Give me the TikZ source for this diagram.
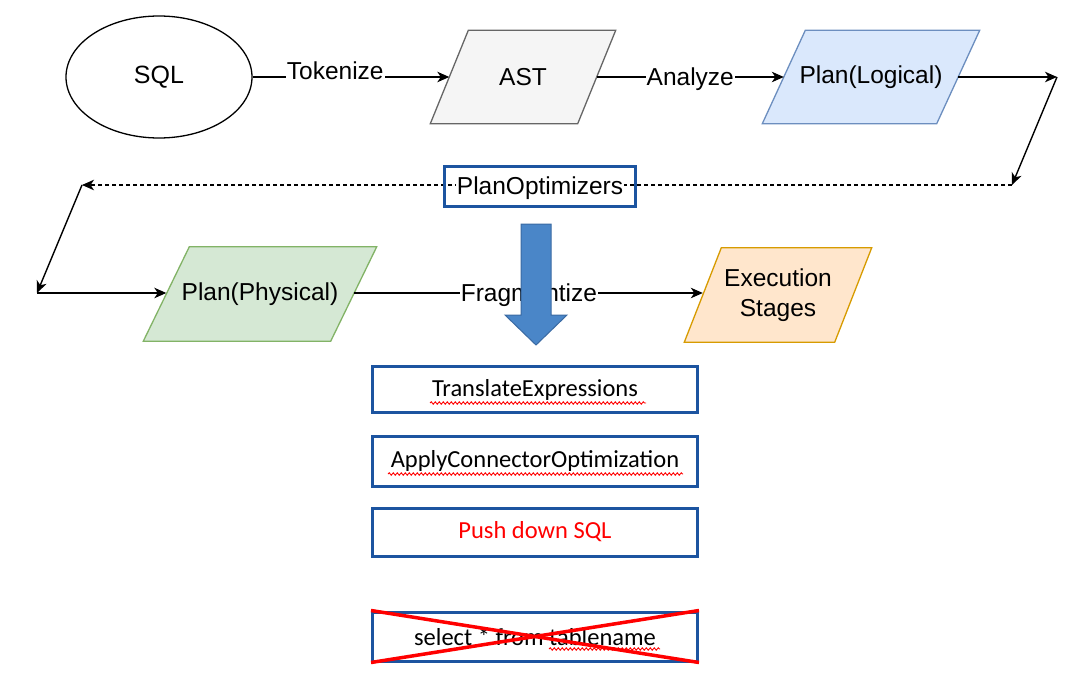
\documentclass[tikz,border=0pt]{standalone}
\usepackage{fontspec}
\setmainfont{Liberation Sans}
\newfontfamily\calibri{Carlito}
\usetikzlibrary{arrows.meta,shapes.geometric,backgrounds,decorations.pathmorphing}
\definecolor{astfill}{HTML}{F5F5F5}
\definecolor{astdraw}{HTML}{666666}
\definecolor{logfill}{HTML}{DAE8FC}
\definecolor{logdraw}{HTML}{6C8EBF}
\definecolor{phyfill}{HTML}{D5E8D4}
\definecolor{phydraw}{HTML}{82B366}
\definecolor{exefill}{HTML}{FFE6CC}
\definecolor{exedraw}{HTML}{D79B00}
\definecolor{boxblue}{RGB}{28,84,160}
\definecolor{arrowfill}{HTML}{4A86C8}
\definecolor{arrowdraw}{HTML}{3A6AA3}
\newcommand\paraback[4]{%
  \begin{scope}[on background layer]
    \draw[line width=1.3pt, fill=#3, draw=#4]
      ([xshift=#2pt]#1.north west) -- ([xshift=#2pt]#1.north east) --
      ([xshift=-#2pt]#1.south east) -- ([xshift=-#2pt]#1.south west) -- cycle;
  \end{scope}}
\begin{document}
\begin{tikzpicture}[x=1pt,y=-1pt,
  conn/.style={line width=1.4pt, -{Stealth[length=12pt,width=10.5pt,inset=3.5pt]}},
  dashconn/.style={conn, line width=1.1pt, dash pattern=on 4pt off 3pt},
  elbl/.style={fill=white, inner xsep=1pt, inner ysep=0pt, anchor=base, yshift=-8.5pt,
    font=\fontsize{24.5}{28}\selectfont},
  para/.style={inner sep=0pt, align=center, font=\fontsize{24.5}{29.5}\selectfont},
  optbox/.style={draw=boxblue, line width=3pt, minimum width=191pt, minimum height=40pt, inner sep=0pt},
  stagebox/.style={draw=boxblue, line width=3pt, minimum width=325pt, inner sep=0pt,
    font=\calibri\fontsize{24.5}{28}\selectfont},
  squig/.style={draw=red, line width=0.9pt, decorate,
    decoration={snake, segment length=4pt, amplitude=1.2pt}},
  bigarrow/.style={fill=arrowfill, draw=arrowdraw, line width=1pt}
]
\begin{scope}[on background layer]
  \fill[white] (0,0) rectangle (1080,680);
\end{scope}
\useasboundingbox (0,0) rectangle (1080,680);

% top row
\node[draw, ellipse, line width=1.3pt, minimum width=186pt, minimum height=122pt,
  inner sep=0pt, font=\fontsize{25}{28}\selectfont] (sql) at (159,77) {SQL};
\node[para, minimum width=147pt, minimum height=93pt] (ast) at (523,77) {AST};
\paraback{ast}{19}{astfill}{astdraw}
\node[para, minimum width=174pt, minimum height=93pt] (logical) at (871,77) {Plan(Logical)};
\paraback{logical}{21.5}{logfill}{logdraw}

% bottom row
\node[para, minimum width=187pt, minimum height=94pt] (physical) at (260,294) {Plan(Physical)};
\paraback{physical}{23}{phyfill}{phydraw}
\node[para, minimum width=150pt, minimum height=94pt] (exec) at (778,295) {Execution\\Stages};
\paraback{exec}{18.5}{exefill}{exedraw}

\coordinate (c1) at (1057,77);
\coordinate (c2) at (1012,185);
\coordinate (c3) at (82,185);
\coordinate (c4) at (37,293);

\draw[conn] (sql.east) -- node[elbl, pos=0.42, yshift=6.5pt] {Tokenize} (ast.west);
\draw[conn] (ast.east) -- node[elbl, pos=0.5] {Analyze} (logical.west);
\draw[conn] (logical.east) -- (c1);
\draw[conn] (c1) -- (c2);
\draw[dashconn] (c2) -- node[elbl, pos=0.5075, yshift=-1pt] {PlanOptimizers} (c3);
\node[optbox] (opt) at (540,186.5) {};
\draw[conn] (c3) -- (c4);
\draw[conn] (c4) -- (physical.west |- c4);
\draw[conn] (physical.east |- c4) -- node[elbl, pos=0.502] {Fragmentize} (exec.west |- c4);

% big blue arrow
\draw[bigarrow] (521,224) -- (551,224) -- (551,315) -- (567,315) -- (536,345)
  -- (505,315) -- (521,315) -- cycle;

% optimizer stages
\node[stagebox, minimum height=46pt] (s1) at (535,389.5) {TranslateExpressions};
\node[stagebox, minimum height=50pt] (s2) at (535,461) {ApplyConnectorOptimization};
\node[stagebox, minimum height=48pt, text=red] (s3) at (535,532) {Push down SQL};
\node[stagebox, minimum height=49pt] (s4) at (535,636.5) {select * from tablename};

\draw[squig] (430,403) -- (646,403);
\draw[squig] (388,474) -- (683,474);
\draw[squig] (549,649) -- (660,649);

\draw[red, line width=3.5pt] (s4.north west) -- (s4.south east);
\draw[red, line width=3.5pt] (s4.south west) -- (s4.north east);
\end{tikzpicture}
\end{document}
